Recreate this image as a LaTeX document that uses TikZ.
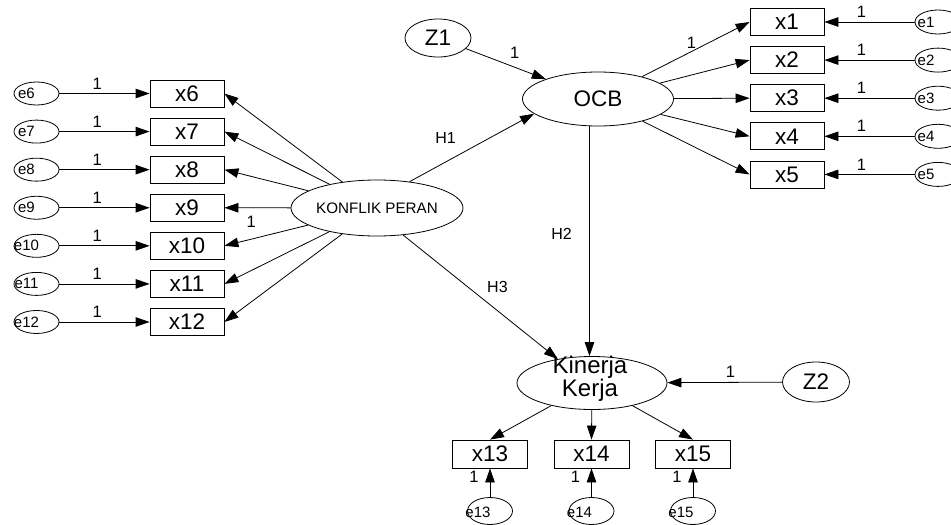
\documentclass[tikz,border=0pt]{standalone}
\usepackage{fontspec}
\setmainfont{Liberation Sans}
\usetikzlibrary{arrows.meta,shapes.geometric}

\begin{document}
\begin{tikzpicture}[x=1pt,y=-1pt,line width=0.8pt,
    >={Triangle[length=14pt,width=9.5pt]},
    obs/.style={draw,rectangle,minimum width=74pt,minimum height=27pt,inner sep=0pt,font=\fontsize{22.5}{24}\selectfont},
    lat/.style={draw,ellipse,inner sep=0pt,font=\fontsize{22.5}{24}\selectfont},
    err/.style={draw,ellipse,inner sep=0pt,minimum width=45pt,minimum height=23pt},
    elbl/.style={inner sep=0pt,font=\fontsize{15}{16}\selectfont},
    one/.style={inner sep=0pt,font=\fontsize{16.5}{17}\selectfont},
    hyp/.style={inner sep=0pt,font=\fontsize{16}{17}\selectfont}]
    \useasboundingbox (0,0) rectangle (951,525);

    \foreach \i [evaluate={\y=93.5+38.08*\i;\n=int(\i+6)}] in {0,1,...,6}
    {
        \node[obs] (x\n) at (187,\y) {x\n};
        \node[err] (e\n) at (36.5,\y) {};
        \node[elbl] (le\n) at (26.5,\y) {e\n};
        \draw[->] (e\n) -- node[one,pos=0.42,above=4pt] {1} (x\n);
    }
    \node[lat,minimum width=150pt,minimum height=56pt,font=\fontsize{15.2}{17}\selectfont] (kp) at (377,208) {KONFLIK PERAN};
    \foreach \n in {6,7,8,9,11,12}
        \draw[->] (kp) -- (x\n.east);
    \draw[->] (kp) -- node[one,pos=0.68,yshift=17.6pt] {1} (x10.east);

    \node[lat,minimum width=151pt,minimum height=54pt] (ocb) at (598,99) {OCB};
    \foreach \i [evaluate={\y=22+38.1*\i;\n=int(\i+1)}] in {0,1,...,4}
    {
        \node[obs] (x\n) at (787,\y) {x\n};
        \node[err,minimum width=46pt,minimum height=24pt] (e\n) at (938,\y) {};
        \node[elbl] (le\n) at (926,\y) {e\n};
        \draw[->] (e\n) -- node[one,pos=0.59,above=4pt] {1} (x\n);
    }
    \foreach \n in {2,3,4,5}
        \draw[->] (ocb) -- (x\n.west);
    \draw[->] (ocb) -- node[one,pos=0.46,above=3pt] {1} (x1.west);

    \node[lat,minimum width=66pt,minimum height=38pt] (z1) at (438,38) {Z1};
    \draw[->] (z1) -- node[one,pos=0.61,above=8pt] {1} (ocb);

    \node[lat,minimum width=150pt,minimum height=53pt] (kk) at (592,383) {};
    \node[align=center,inner sep=0pt,font=\fontsize{24}{19}\selectfont] (kktext) at (590,379) {Kinerja\\Kerja};
    \node[lat,minimum width=67pt,minimum height=40pt] (z2) at (816,382) {Z2};
    \draw[->] (z2) -- node[one,pos=0.45,above=4pt] {1} (kk);

    \draw[->] (kp.39) -- node[hyp,pos=0.29,yshift=23.5pt] {H1} (ocb.193);
    \draw[->] ([xshift=-8.5pt]ocb.south) -- node[hyp,pos=0.47,xshift=-28pt] {H2} ([xshift=-2.5pt]kk.north);
    \draw[->] (kp.-46) -- node[hyp,pos=0.61,yshift=23.6pt] {H3} (kk.145);

    \foreach \x [count=\i from 13] in {490,591.5,693}
    {
        \node[obs,minimum width=75pt,minimum height=28pt] (x\i) at (\x,454) {x\i};
        \node[err,minimum height=27pt] (e\i) at (\x,511) {};
        \node[elbl] (le\i) at (\x-12,512) {e\i};
        \draw[->] (e\i) -- node[one,pos=0.69,xshift=-16pt] {1} (x\i);
        \draw[->] (kk) -- (x\i.north);
    }
\end{tikzpicture}
\end{document}
